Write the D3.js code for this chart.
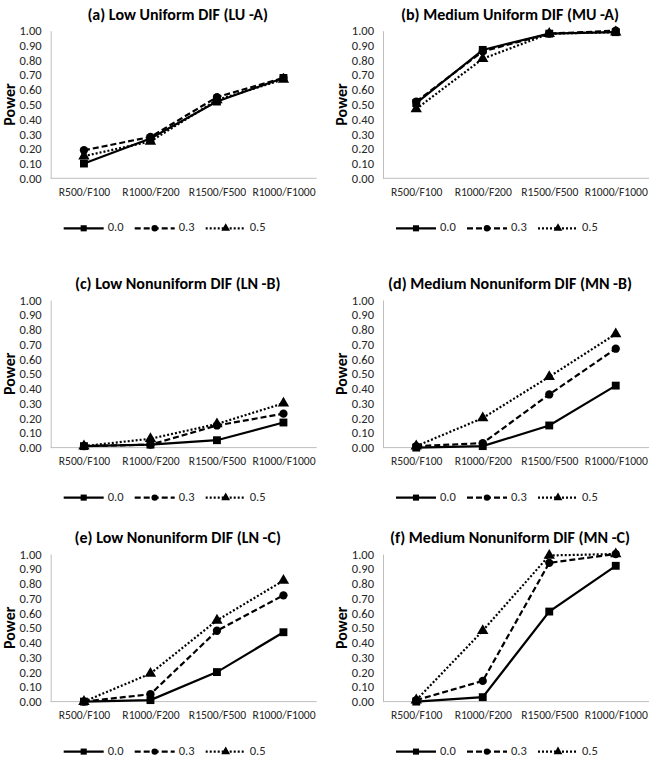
<!DOCTYPE html>
<html><head><meta charset="utf-8">
<script src="https://cdn.jsdelivr.net/npm/d3@7/dist/d3.min.js"></script>
<style>body{margin:0;background:#fff}svg{display:block}</style>
</head><body>
<svg id="c" width="653" height="757"></svg>
<script>
const categories = ["R500/F100","R1000/F200","R1500/F500","R1000/F1000"];
const seriesNames = ["0.0","0.3","0.5"];
const yTicks = [0,0.1,0.2,0.3,0.4,0.5,0.6,0.7,0.8,0.9,1.0];
const titles = ["(a) Low Uniform DIF (LU -A)","(b) Medium Uniform DIF (MU -A)","(c) Low Nonuniform DIF (LN -B)","(d) Medium Nonuniform DIF (MN -B)","(e) Low Nonuniform DIF (LN -C)","(f) Medium Nonuniform DIF (MN -C)"];
const panelA = [[0.10,0.27,0.52,0.68],[0.19,0.28,0.55,0.68],[0.15,0.25,0.53,0.67]];
const panelB = [[0.51,0.87,0.98,0.99],[0.52,0.86,0.98,1.00],[0.47,0.81,0.98,0.99]];
const panelC = [[0.01,0.02,0.05,0.17],[0.01,0.02,0.15,0.23],[0.01,0.06,0.16,0.30]];
const panelD = [[0.00,0.01,0.15,0.42],[0.01,0.03,0.36,0.67],[0.01,0.20,0.48,0.77]];
const panelE = [[0.00,0.01,0.20,0.47],[0.00,0.05,0.48,0.72],[0.00,0.19,0.55,0.82]];
const panelF = [[0.00,0.03,0.61,0.92],[0.01,0.14,0.94,1.00],[0.01,0.48,0.99,1.00]];
const panels = [panelA,panelB,panelC,panelD,panelE,panelF];

const svg = d3.select("#c");
const font = "Carlito, Lato, 'Open Sans', sans-serif";
const colX = [50.7, 383];
const rowTop = [30.7, 300, 554];
const plotW = 266, plotH = 147.6;
const dashes = [null, "6,3", "2,2"];
const symbols = [d3.symbolSquare, d3.symbolCircle, d3.symbolTriangle];
const symSize = [62, 54, 56];
const txt = "#262626";

panels.forEach((data, i) => {
  const col = i % 2, row = Math.floor(i / 2);
  const g = svg.append("g").attr("transform", `translate(${colX[col]},${rowTop[row]})`);
  const x = d3.scalePoint().domain(categories).range([0, plotW]).padding(0.5);
  const y = d3.scaleLinear().domain([0, 1]).range([plotH, 0]);

  const ya = g.append("g").call(d3.axisLeft(y).tickValues(yTicks).tickSize(0).tickPadding(9).tickFormat(d3.format(".2f")));
  ya.select(".domain").attr("stroke", "#bfbfbf").attr("stroke-width", 1);
  ya.selectAll("text").attr("font-family", font).attr("font-size", 12.5).attr("fill", txt);
  const xa = g.append("g").attr("transform", `translate(0,${plotH})`).call(d3.axisBottom(x).tickSize(0).tickPadding(9));
  xa.select(".domain").attr("stroke", "#bfbfbf").attr("stroke-width", 1).attr("d", `M0,0H${plotW}`);
  xa.selectAll("text").attr("font-family", font).attr("font-size", 11.6).attr("fill", txt);

  g.append("text").attr("x", 127).attr("y", -15).attr("text-anchor", "middle")
    .attr("dominant-baseline", "middle").attr("font-family", font).attr("font-weight", "bold")
    .attr("font-size", 16).attr("fill", "#000").text(titles[i]);
  g.append("text").attr("transform", `translate(-40,${plotH / 2}) rotate(-90)`)
    .attr("text-anchor", "middle").attr("dominant-baseline", "middle")
    .attr("font-family", font).attr("font-weight", "bold").attr("font-size", 16).attr("fill", "#000").text("Power");

  const line = d3.line().x((d, k) => x(categories[k])).y(d => y(d));
  data.forEach((vals, s) => {
    g.append("path").datum(vals).attr("d", line).attr("fill", "none").attr("stroke", "#000")
      .attr("stroke-width", 2.2).attr("stroke-dasharray", dashes[s]);
    g.selectAll(null).data(vals).enter().append("path")
      .attr("transform", (d, k) => `translate(${x(categories[k])},${y(d)})`)
      .attr("d", d3.symbol().type(symbols[s]).size(symSize[s])).attr("fill", "#000");
  });

  const lg = g.append("g").attr("transform", `translate(13,${plotH + 50})`);
  seriesNames.forEach((name, s) => {
    const ox = s * 71;
    lg.append("line").attr("x1", ox).attr("x2", ox + 40).attr("y1", 0).attr("y2", 0)
      .attr("stroke", "#000").attr("stroke-width", 2.2).attr("stroke-dasharray", dashes[s]);
    lg.append("path").attr("transform", `translate(${ox + 20},0)`)
      .attr("d", d3.symbol().type(symbols[s]).size(symSize[s] * 0.6)).attr("fill", "#000");
    lg.append("text").attr("x", ox + 44).attr("y", 0).attr("dominant-baseline", "middle")
      .attr("font-family", font).attr("font-size", 12.5).attr("fill", txt).text(name);
  });
});
</script>
</body></html>
